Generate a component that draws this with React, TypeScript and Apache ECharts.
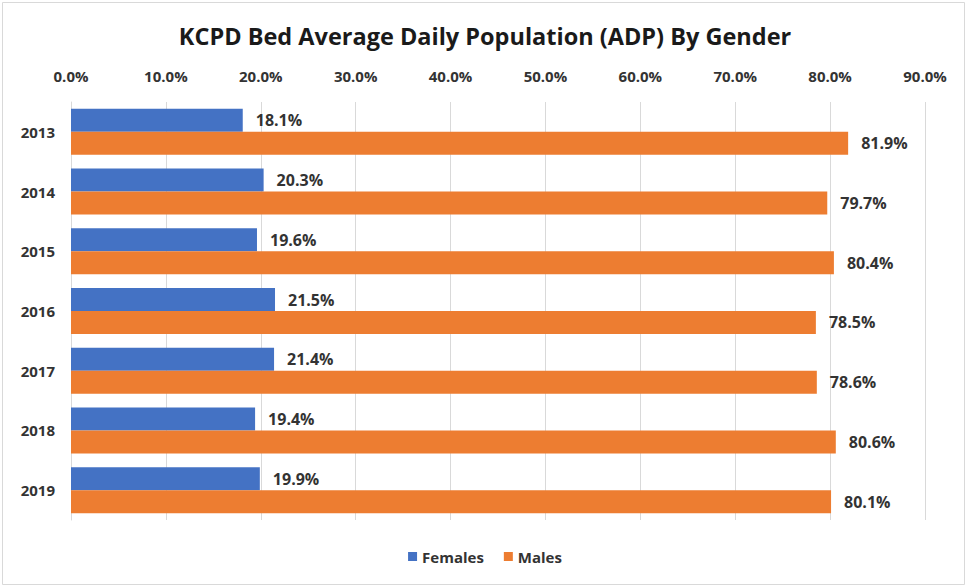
import React, { useEffect, useRef } from "react";
import * as echarts from "echarts";

const years = ["2013", "2014", "2015", "2016", "2017", "2018", "2019"];
const females = [18.1, 20.3, 19.6, 21.5, 21.4, 19.4, 19.9];
const males = [81.9, 79.7, 80.4, 78.5, 78.6, 80.6, 80.1];
const titleText = "KCPD Bed Average Daily Population (ADP) By Gender";

const FONT = "'Open Sans', 'Liberation Sans', sans-serif";

export default function App() {
  const ref = useRef<HTMLDivElement>(null);
  useEffect(() => {
    if (!ref.current) return;
    const chart = echarts.init(ref.current, null, { renderer: "svg" });
    const labelCfg = {
      show: true,
      position: "right" as const,
      distance: 13,
      formatter: (p: any) => p.value.toFixed(1) + "%",
      fontFamily: FONT,
      fontWeight: "bold" as const,
      fontSize: 16,
      color: "#333333",
    };
    chart.setOption({
      animation: false,
      backgroundColor: "#ffffff",
      title: {
        text: titleText,
        left: "center",
        top: 19,
        textStyle: { fontFamily: FONT, fontWeight: "bold", fontSize: 23.5, color: "#1a1a1a" },
      },
      graphic: [
        {
          type: "rect",
          shape: { x: 2.5, y: 2.5, width: 962, height: 582 },
          style: { fill: "none", stroke: "#d9d9d9", lineWidth: 1 },
          silent: true,
        },
      ],
      legend: {
        bottom: 19,
        left: "center",
        itemWidth: 9,
        itemHeight: 9,
        itemGap: 20,
        icon: "rect",
        textStyle: { fontFamily: FONT, fontWeight: "bold", fontSize: 15, color: "#333333" },
        data: ["Females", "Males"],
      },
      grid: { left: 71, right: 45, top: 102, bottom: 68, containLabel: false },
      xAxis: {
        type: "value",
        position: "top",
        min: 0,
        max: 90,
        interval: 10,
        axisLine: { show: false },
        axisTick: { show: false },
        axisLabel: {
          formatter: (v: number) => v.toFixed(1) + "%",
          fontFamily: FONT,
          fontWeight: "bold",
          fontSize: 15,
          color: "#333333",
          margin: 19,
        },
        splitLine: { show: true, lineStyle: { color: "#d9d9d9", width: 1 } },
      },
      yAxis: {
        type: "category",
        data: years,
        inverse: true,
        axisLine: { show: true, lineStyle: { color: "#d9d9d9" } },
        axisTick: { show: false },
        axisLabel: {
          fontFamily: FONT,
          fontWeight: "bold",
          fontSize: 15,
          color: "#333333",
          margin: 16,
        },
      },
      series: [
        {
          name: "Females",
          type: "bar",
          data: females,
          barGap: "0%",
          barCategoryGap: "23%",
          itemStyle: { color: "#4472C4" },
          label: labelCfg,
        },
        {
          name: "Males",
          type: "bar",
          data: males,
          barGap: "0%",
          barCategoryGap: "23%",
          itemStyle: { color: "#ED7D31" },
          label: labelCfg,
        },
      ],
    });
    return () => chart.dispose();
  }, []);
  return (
    <div
      ref={ref}
      style={{ position: "fixed", left: 0, top: 0, width: 970, height: 588 }}
    />
  );
}
